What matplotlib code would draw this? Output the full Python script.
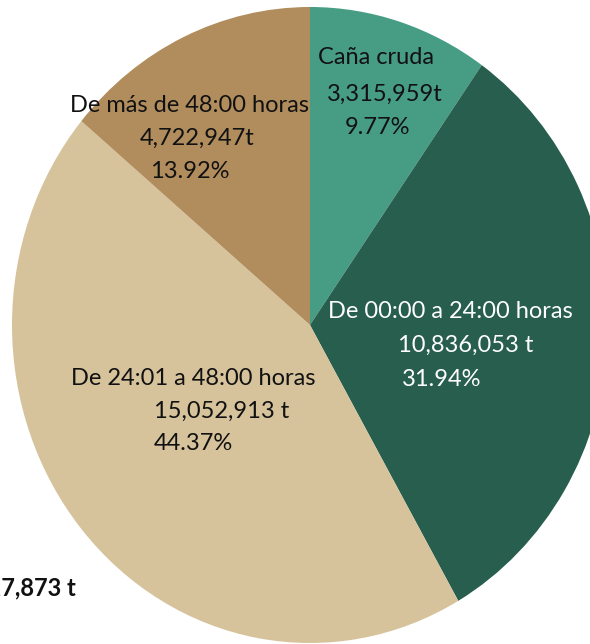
import matplotlib
matplotlib.use("Agg")
import matplotlib.pyplot as plt

categories = ["Caña cruda", "De 00:00 a 24:00 horas", "De 24:01 a 48:00 horas", "De más de 48:00 horas"]
tonnes = [3315959, 10836053, 15052913, 4722947]
tonne_labels = ["3,315,959t", "10,836,053 t", "15,052,913 t", "4,722,947t"]
pct_labels = ["9.77%", "31.94%", "44.37%", "13.92%"]
total_label = "33,927,873 t"

colors = ["#479c84", "#275e4d", "#d6c39c", "#b18d5d"]
text_colors = ["#111111", "#ffffff", "#111111", "#111111"]

W, H = 590, 644
fig = plt.figure(figsize=(W / 100, H / 100), dpi=100)
fig.patch.set_facecolor("white")

# pie occupies an elliptical area (stretched)
left, right, top, bottom = 12, 608, 7, 643
ax = fig.add_axes([left / W, 1 - bottom / H, (right - left) / W, (bottom - top) / H])
ax.pie(tonnes, colors=colors, startangle=90, counterclock=False, radius=1,
       wedgeprops=dict(linewidth=0))
ax.set_xlim(-1, 1)
ax.set_ylim(-1, 1)
ax.set_aspect("auto")
ax.axis("off")

FONT = "Lato"
FS = 17

def px(x, y):
    return x / W, 1 - y / H

# label line centres (pixel positions), per category: name, tonnes, pct
label_pos = [
    [(376, 58), (385, 94), (377, 128)],
    [(450, 311), (466, 345), (442, 379)],
    [(193, 378), (222, 411), (193, 443)],
    [(190, 105), (197, 138), (190, 172)],
]

for i, cat in enumerate(categories):
    lines = [cat, tonne_labels[i], pct_labels[i]]
    for (x, y), s in zip(label_pos[i], lines):
        fx, fy = px(x, y)
        fig.text(fx, fy, s, ha="center", va="center", fontsize=FS,
                 family=FONT, color=text_colors[i])

fx, fy = px(76, 588)
fig.text(fx, fy, total_label, ha="right", va="center", fontsize=FS,
         family=FONT, fontweight="bold", color="#111111")

fig.savefig("out.png", dpi=100, facecolor="white")
